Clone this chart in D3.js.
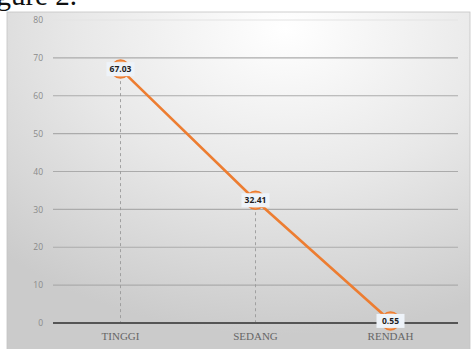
<!DOCTYPE html>
<html>
<head>
<meta charset="utf-8">
<script src="https://cdn.jsdelivr.net/npm/d3@7"></script>
<style>
body { margin:0; background:#fff; }
svg { display:block; }
</style>
</head>
<body>
<div id="chart"></div>
<script>
// values
var categories = ["TINGGI", "SEDANG", "RENDAH"];
var values = [67.03, 32.41, 0.55];
var yTicks = [0, 10, 20, 30, 40, 50, 60, 70, 80];

function drawChart(){
	var w = 473, h = 349;
	var mLeft = 53, mRight = 458, mTop = 20, mBottom = 323;

	var svg = d3.select("#chart").append("svg")
		.attr("width", w)
		.attr("height", h);

	var defs = svg.append("defs");
	var grad = defs.append("radialGradient")
		.attr("id", "bg")
		.attr("cx", "0.6").attr("cy", "0.05").attr("r", "0.9")
		.attr("fx", "0.6").attr("fy", "0.05");
	grad.append("stop").attr("offset", "0%").attr("stop-color", "#ffffff");
	grad.append("stop").attr("offset", "50%").attr("stop-color", "#e8e8e8");
	grad.append("stop").attr("offset", "100%").attr("stop-color", "#cbcbcb");

	// caption piece cut off at the top
	svg.append("text")
		.attr("x", 77).attr("y", 5)
		.attr("text-anchor", "end")
		.attr("font-family", "Liberation Serif, serif")
		.attr("font-size", 29)
		.attr("fill", "#111")
		.text("Figure 2.");

	svg.append("rect")
		.attr("x", 7).attr("y", 12)
		.attr("width", 463).attr("height", 340)
		.attr("fill", "url(#bg)")
		.attr("stroke", "#c4c4c4")
		.attr("stroke-width", 0.8);

	var x = d3.scaleBand().domain(categories).range([mLeft, mRight]);
	var y = d3.scaleLinear().domain([0, 80]).range([mBottom, mTop]);
	var cx = function(d, i){ return x(categories[i]) + x.bandwidth()/2; };

	// gridlines
	svg.append("g").selectAll("line")
		.data(yTicks.filter(function(d){ return d > 0; }))
		.enter().append("line")
		.attr("x1", mLeft).attr("x2", mRight)
		.attr("y1", function(d){ return y(d); })
		.attr("y2", function(d){ return y(d); })
		.attr("stroke", function(d){ return d == 80 ? "#e4e4e4" : "#ababab"; })
		.attr("stroke-width", 1.2);

	var yAxis = d3.axisLeft(y).tickValues(yTicks).tickSize(0).tickPadding(10);
	svg.append("g")
		.attr("transform", "translate(" + mLeft + ",0)")
		.call(yAxis)
		.call(function(g){ g.select(".domain").remove(); })
		.selectAll("text")
		.attr("font-family", "Open Sans, sans-serif")
		.attr("font-size", 8.5)
		.attr("fill", "#8a8a8a");

	// dashed drop lines
	svg.append("g").selectAll("line")
		.data(values)
		.enter().append("line")
		.attr("x1", cx)
		.attr("x2", cx)
		.attr("y1", function(d){ return y(d); })
		.attr("y2", mBottom)
		.attr("stroke", "#9a9a9a")
		.attr("stroke-width", 0.9)
		.attr("stroke-dasharray", "3,3");

	// zero axis
	svg.append("line")
		.attr("x1", mLeft).attr("x2", mRight)
		.attr("y1", mBottom).attr("y2", mBottom)
		.attr("stroke", "#555")
		.attr("stroke-width", 2);

	var xAxis = d3.axisBottom(x).tickSize(0).tickPadding(9);
	svg.append("g")
		.attr("transform", "translate(0," + mBottom + ")")
		.call(xAxis)
		.call(function(g){ g.select(".domain").remove(); })
		.selectAll("text")
		.attr("font-family", "Liberation Serif, serif")
		.attr("font-size", 11)
		.attr("fill", "#666");

	var line = d3.line()
		.x(cx)
		.y(function(d){ return y(d); });

	svg.append("path")
		.datum(values)
		.attr("d", line)
		.attr("fill", "none")
		.attr("stroke", "#ed7d31")
		.attr("stroke-width", 2.6);

	svg.append("g").selectAll("circle")
		.data(values)
		.enter().append("circle")
		.attr("cx", cx)
		.attr("cy", function(d){ return y(d); })
		.attr("r", 9)
		.attr("fill", "#f4a46c")
		.attr("stroke", "#ed7d31")
		.attr("stroke-width", 1.5);

	// value labels
	var labels = svg.append("g").selectAll("g")
		.data(values)
		.enter().append("g")
		.attr("transform", function(d, i){
			return "translate(" + cx(d, i) + "," + y(d) + ")";
		});
	labels.append("rect")
		.attr("x", -14).attr("y", -7)
		.attr("width", 28).attr("height", 14)
		.attr("fill", "#eef3f9");
	labels.append("text")
		.attr("text-anchor", "middle")
		.attr("dy", "0.36em")
		.attr("font-family", "Open Sans, sans-serif")
		.attr("font-weight", "bold")
		.attr("font-size", 8.5)
		.attr("fill", "#1e1e1e")
		.text(function(d){ return d.toFixed(2); });
}
drawChart();
</script>
</body>
</html>
